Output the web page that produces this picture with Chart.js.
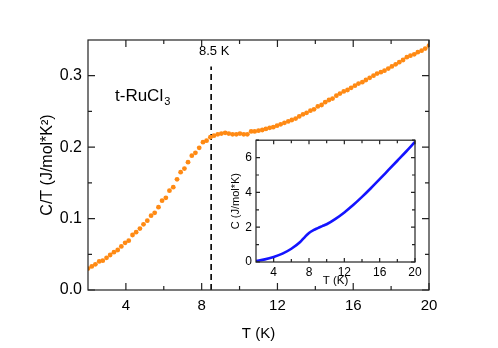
<!DOCTYPE html>
<html>
<head>
<meta charset="utf-8">
<script src="https://cdn.jsdelivr.net/npm/chart.js@4.4.0/dist/chart.umd.min.js"></script>
<style>
  body { margin: 0; background: #fff; }
  #wrap { position: relative; width: 498px; height: 348px; }
  #main { position: absolute; left: 0; top: 0; }
  #inset { position: absolute; left: 226px; top: 129px; }
</style>
</head>
<body>
<div id="wrap">
  <canvas id="main" width="498" height="348"></canvas>
  <canvas id="inset" width="200" height="165"></canvas>
</div>
<script>
// main panel: C/T vs T
var temps = [2.00, 2.20, 2.39, 2.59, 2.78, 2.98, 3.17, 3.37, 3.57, 3.76,
  3.96, 4.15, 4.35, 4.54, 4.74, 4.93, 5.13, 5.33, 5.52, 5.72,
  5.91, 6.11, 6.30, 6.50, 6.70, 6.89, 7.09, 7.28, 7.48, 7.67,
  7.87, 8.07, 8.26, 8.46, 8.65, 8.85, 9.04, 9.24, 9.43, 9.63,
  9.83, 10.02, 10.22, 10.41, 10.61, 10.80, 11.00, 11.20, 11.39, 11.59,
  11.78, 11.98, 12.17, 12.37, 12.57, 12.76, 12.96, 13.15, 13.35, 13.54,
  13.74, 13.93, 14.13, 14.33, 14.52, 14.72, 14.91, 15.11, 15.30, 15.50,
  15.70, 15.89, 16.09, 16.28, 16.48, 16.67, 16.87, 17.07, 17.26, 17.46,
  17.65, 17.85, 18.04, 18.24, 18.43, 18.63, 18.83, 19.02, 19.22, 19.41,
  19.61, 19.80, 20.00];
var cOverT = [0.030, 0.033, 0.036, 0.040, 0.041, 0.045, 0.049, 0.053, 0.056, 0.061,
  0.066, 0.069, 0.077, 0.081, 0.086, 0.092, 0.097, 0.104, 0.108, 0.116,
  0.125, 0.129, 0.139, 0.144, 0.155, 0.165, 0.170, 0.179, 0.188, 0.192,
  0.199, 0.207, 0.209, 0.214, 0.216, 0.218, 0.219, 0.220, 0.219, 0.218,
  0.218, 0.219, 0.218, 0.218, 0.222, 0.222, 0.223, 0.224, 0.2255, 0.227,
  0.228, 0.230, 0.232, 0.234, 0.236, 0.238, 0.240, 0.243, 0.246, 0.248,
  0.251, 0.253, 0.257, 0.259, 0.263, 0.266, 0.268, 0.272, 0.275, 0.278,
  0.280, 0.283, 0.286, 0.289, 0.291, 0.294, 0.297, 0.300, 0.303, 0.305,
  0.307, 0.310, 0.313, 0.316, 0.319, 0.322, 0.326, 0.328, 0.330, 0.333,
  0.335, 0.338, 0.342];
var xTicks = [4, 8, 12, 16, 20];
var xMinor = [6, 10, 14, 18];
var yTicks = [0, 0.1, 0.2, 0.3];
var yMinor = [0.05, 0.15, 0.25];
var transitionT = 8.5;
var markerY = [0, 0.313];

// inset: C vs T
var insetT = [2, 3, 4, 5, 6, 7, 7.5, 8, 8.5, 9, 9.5, 10, 11, 12, 13, 14, 15, 16, 17, 18, 19, 20];
var insetC = [0.06, 0.15, 0.29, 0.48, 0.76, 1.15, 1.42, 1.67, 1.83, 1.95, 2.06, 2.17, 2.48,
  2.85, 3.27, 3.74, 4.24, 4.76, 5.29, 5.82, 6.35, 6.90];
var insetXTicks = [4, 8, 12, 16, 20];
var insetXMinor = [6, 10, 14, 18];
var insetYTicks = [0, 2, 4, 6];
var insetYMinor = [1, 3, 5, 7];

var FONT = "'Liberation Sans', Arial, Helvetica, sans-serif";
Chart.defaults.font.family = FONT;
Chart.defaults.color = '#000';

function fixTicks(list) {
  return function (s) { s.ticks = list.map(function (v) { return { value: v }; }); };
}

// frame + inward ticks on all four sides
function framePlugin(xs, xm, ys, ym, big, small) {
  return {
    id: 'frame',
    afterDraw: function (chart) {
      var c = chart.ctx, a = chart.chartArea;
      var sx = chart.scales.x, sy = chart.scales.y;
      c.save();
      c.strokeStyle = '#222';
      c.lineWidth = 1.2;
      c.strokeRect(a.left, a.top, a.right - a.left, a.bottom - a.top);
      c.beginPath();
      function xt(v, len) {
        var p = sx.getPixelForValue(v);
        c.moveTo(p, a.bottom); c.lineTo(p, a.bottom - len);
        c.moveTo(p, a.top); c.lineTo(p, a.top + len);
      }
      function yt(v, len) {
        var p = sy.getPixelForValue(v);
        c.moveTo(a.left, p); c.lineTo(a.left + len, p);
        c.moveTo(a.right, p); c.lineTo(a.right - len, p);
      }
      xs.forEach(function (v) { xt(v, big); });
      xm.forEach(function (v) { xt(v, small); });
      ys.forEach(function (v) { yt(v, big); });
      ym.forEach(function (v) { yt(v, small); });
      c.stroke();
      c.restore();
    }
  };
}

var labelsPlugin = {
  id: 'labels',
  afterDraw: function (chart) {
    var c = chart.ctx, sx = chart.scales.x;
    c.save();
    c.fillStyle = '#000';
    c.font = '13px ' + FONT;
    c.textAlign = 'center';
    c.textBaseline = 'middle';
    c.fillText('8.5 K', sx.getPixelForValue(transitionT) + 3, 51);
    c.textAlign = 'left';
    c.textBaseline = 'alphabetic';
    c.font = '17px ' + FONT;
    c.fillText('t-RuCl', 115, 101);
    var w = c.measureText('t-RuCl').width;
    c.font = '11px ' + FONT;
    c.fillText('3', 115 + w + 1, 105);
    c.restore();
  }
};

new Chart(document.getElementById('main'), {
  type: 'scatter',
  data: {
    datasets: [{
      data: temps.map(function (t, i) { return { x: t, y: cOverT[i] }; }),
      backgroundColor: '#ff8a14',
      borderWidth: 0,
      pointRadius: 2.4
    }, {
      type: 'line',
      data: markerY.map(function (v) { return { x: transitionT, y: v }; }),
      borderColor: '#000',
      borderWidth: 1.6,
      borderDash: [6, 4],
      pointRadius: 0,
      fill: false
    }]
  },
  options: {
    responsive: false,
    devicePixelRatio: 1,
    animation: false,
    layout: { padding: { left: 30, right: 69, top: 40, bottom: 0 } },
    plugins: { legend: { display: false }, tooltip: { enabled: false } },
    scales: {
      x: {
        type: 'linear', min: 2, max: 20,
        afterBuildTicks: fixTicks(xTicks),
        afterFit: function (s) { s.height = 58; },
        grid: { display: false, drawTicks: false },
        border: { display: false },
        ticks: { padding: 7, font: { size: 15 }, color: '#000' },
        title: { display: true, text: 'T (K)', font: { size: 15 }, color: '#000', padding: { top: 0, bottom: 5 } }
      },
      y: {
        type: 'linear', min: 0, max: 0.35,
        afterBuildTicks: fixTicks(yTicks),
        afterFit: function (s) { s.width = 58; },
        grid: { display: false, drawTicks: false },
        border: { display: false },
        ticks: { padding: 6, font: { size: 16 }, color: '#000',
          callback: function (v) { return v.toFixed(1); } },
        title: { display: true, text: 'C/T (J/mol*K²)', font: { size: 16 }, color: '#000', padding: { top: 8, bottom: 0 } }
      }
    }
  },
  plugins: [framePlugin(xTicks, xMinor, yTicks, yMinor, 7, 4), labelsPlugin]
});

new Chart(document.getElementById('inset'), {
  type: 'line',
  data: {
    datasets: [{
      data: insetT.map(function (t, i) { return { x: t, y: insetC[i] }; }),
      borderColor: '#1414ff',
      borderWidth: 2.6,
      pointRadius: 0,
      cubicInterpolationMode: 'monotone',
      fill: false
    }]
  },
  options: {
    responsive: false,
    devicePixelRatio: 1,
    animation: false,
    layout: { padding: { left: 0, right: 11, top: 10, bottom: 0 } },
    plugins: { legend: { display: false }, tooltip: { enabled: false } },
    scales: {
      x: {
        type: 'linear', min: 2, max: 20,
        afterBuildTicks: fixTicks(insetXTicks),
        afterFit: function (s) { s.height = 32; },
        grid: { display: false, drawTicks: false },
        border: { display: false },
        ticks: { padding: 3, font: { size: 12 }, color: '#000' },
        title: { display: true, text: 'T (K)', font: { size: 11.5 }, color: '#000', padding: { top: 0, bottom: 6 } }
      },
      y: {
        type: 'linear', min: 0, max: 7,
        afterBuildTicks: fixTicks(insetYTicks),
        afterFit: function (s) { s.width = 30; },
        grid: { display: false, drawTicks: false },
        border: { display: false },
        ticks: { padding: 4, font: { size: 12 }, color: '#000' },
        title: { display: true, text: 'C (J/mol*K)', font: { size: 11 }, color: '#000', padding: { top: 3, bottom: 0 } }
      }
    }
  },
  plugins: [framePlugin(insetXTicks, insetXMinor, insetYTicks, insetYMinor, 4, 3)]
});
</script>
</body>
</html>
